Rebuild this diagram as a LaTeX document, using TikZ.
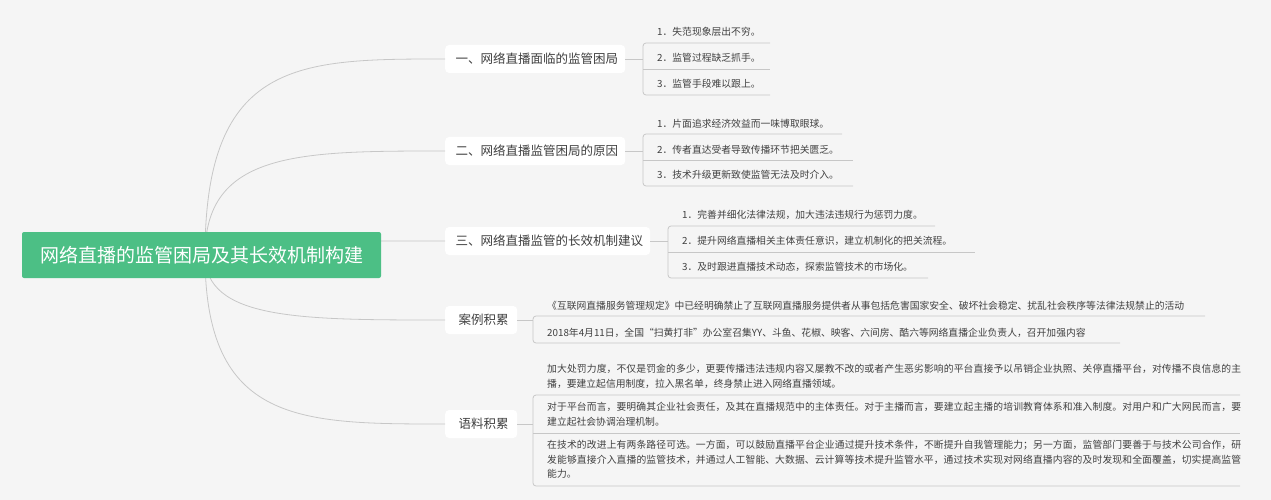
\documentclass[tikz,border=0pt]{standalone}
\usepackage{fontspec}
\setmainfont{Noto Sans CJK SC}
\XeTeXlinebreaklocale "zh"
\XeTeXlinebreakskip=0pt plus 1pt
\definecolor{rootg}{HTML}{4CBF85}
\begin{document}
\begin{tikzpicture}[x=1pt,y=-1pt,
  ln/.style={draw=black!22,line width=0.8pt},
  br/.style={fill=white,rounded corners=4pt,inner sep=0pt,minimum height=28pt,anchor=west},
  bt/.style={anchor=west,text=black!75,font=\fontsize{12.5}{14}\selectfont},
  lf/.style={anchor=west,text=black!75,font=\fontsize{9.8}{14}\selectfont,inner sep=0pt},
  lfb/.style={anchor=north west,text=black!75,font=\fontsize{9.8}{14.5}\selectfont,inner sep=0pt,align=justify,text width=694pt}]
\fill[black!4] (0,0) rectangle (1271,500);
\useasboundingbox (0,0) rectangle (1271,500);
% branches
\node[br,minimum width=180pt] (b1) at (445,59) {};
\node[bt] (t1) at (452,59) {一、网络直播面临的监管困局};
\node[br,minimum width=180pt] (b2) at (445,151) {};
\node[bt] (t2) at (452,151) {二、网络直播监管困局的原因};
\node[br,minimum width=205pt] (b3) at (445,241) {};
\node[bt] (t3) at (452,241) {三、网络直播监管的长效机制建议};
\node[br,minimum width=72pt] (b4) at (445,320) {};
\node[bt] (t4) at (455,320) {案例积累};
\node[br,minimum width=72pt] (b5) at (445,424) {};
\node[bt] (t5) at (455,424) {语料积累};
% root curves
\coordinate (r) at (205,255);
\foreach \n/\yy in {b1/59,b2/151,b3/241,b4/320,b5/424}{
  \draw[ln] (r) .. controls (205,\yy) and (300,\yy) .. (\n.west);
}
\node[fill=rootg,rounded corners=2pt,minimum width=359pt,minimum height=46pt,inner sep=0pt,text=white,font=\fontsize{19}{22}\selectfont] (root) at (201.5,255) {网络直播的监管困局及其长效机制构建};
% group 1
\coordinate (c1) at (643,59);
\draw[ln] (b1.east) -- (c1);
\draw[ln,rounded corners=3pt] (770,43) -- (643,43) -- (643,95) -- (770,95);
\draw[ln] (643,69) -- (770,69);
\node[lf] (l11) at (657,32) {1．失范现象层出不穷。};
\node[lf] (l12) at (657,58) {2．监管过程缺乏抓手。};
\node[lf] (l13) at (657,84) {3．监管手段难以跟上。};
% group 2
\coordinate (c2) at (643,151);
\draw[ln] (b2.east) -- (c2);
\draw[ln,rounded corners=3pt] (842,134) -- (643,134) -- (643,186) -- (853,186);
\draw[ln] (643,160) -- (853,160);
\node[lf] (l21) at (657,124) {1．片面追求经济效益而一味博取眼球。};
\node[lf] (l22) at (657,150) {2．传者直达受者导致传播环节把关匮乏。};
\node[lf] (l23) at (657,175) {3．技术升级更新致使监管无法及时介入。};
% group 3
\coordinate (c3) at (668,241);
\draw[ln] (b3.east) -- (c3);
\draw[ln,rounded corners=3pt] (935,226) -- (668,226) -- (668,278) -- (928,278);
\draw[ln] (668,252) -- (975,252);
\node[lf] (l31) at (682,215) {1．完善并细化法律法规，加大违法违规行为惩罚力度。};
\node[lf] (l32) at (682,241) {2．提升网络直播相关主体责任意识，建立机制化的把关流程。};
\node[lf] (l33) at (682,267) {3．及时跟进直播技术动态，探索监管技术的市场化。};
% group 4
\coordinate (c4) at (533,320);
\draw[ln] (b4.east) -- (c4);
\draw[ln,rounded corners=3pt] (1205,316) -- (533,316) -- (533,343) -- (1120,343);
\node[lf] (l41) at (547,306) {《互联网直播服务管理规定》中已经明确禁止了互联网直播服务提供者从事包括危害国家安全、破坏社会稳定、扰乱社会秩序等法律法规禁止的活动};
\node[lf] (l42) at (547,333) {2018年4月11日，全国“扫黄打非”办公室召集YY、斗鱼、花椒、映客、六间房、酷六等网络直播企业负责人，召开加强内容};
% group 5
\coordinate (c5) at (533,424);
\draw[ln] (b5.east) -- (c5);
\draw[ln,rounded corners=3pt] (1240,395) -- (533,395) -- (533,486) -- (1240,486);
\draw[ln] (533,433) -- (1240,433);
\node[lfb] (l51) at (547,364) {加大处罚力度，不仅是罚金的多少，更要传播违法违规内容又屡教不改的或者产生恶劣影响的平台直接予以吊销企业执照、关停直播平台，对传播不良信息的主播，要建立起信用制度，拉入黑名单，终身禁止进入网络直播领域。};
\node[lfb] (l52) at (547,402) {对于平台而言，要明确其企业社会责任，及其在直播规范中的主体责任。对于主播而言，要建立起主播的培训教育体系和准入制度。对用户和广大网民而言，要建立起社会协调治理机制。};
\node[lfb] (l53) at (547,440) {在技术的改进上有两条路径可选。一方面，可以鼓励直播平台企业通过提升技术条件，不断提升自我管理能力；另一方面，监管部门要善于与技术公司合作，研发能够直接介入直播的监管技术，并通过人工智能、大数据、云计算等技术提升监管水平，通过技术实现对网络直播内容的及时发现和全面覆盖，切实提高监管能力。};
\end{tikzpicture}
\end{document}
